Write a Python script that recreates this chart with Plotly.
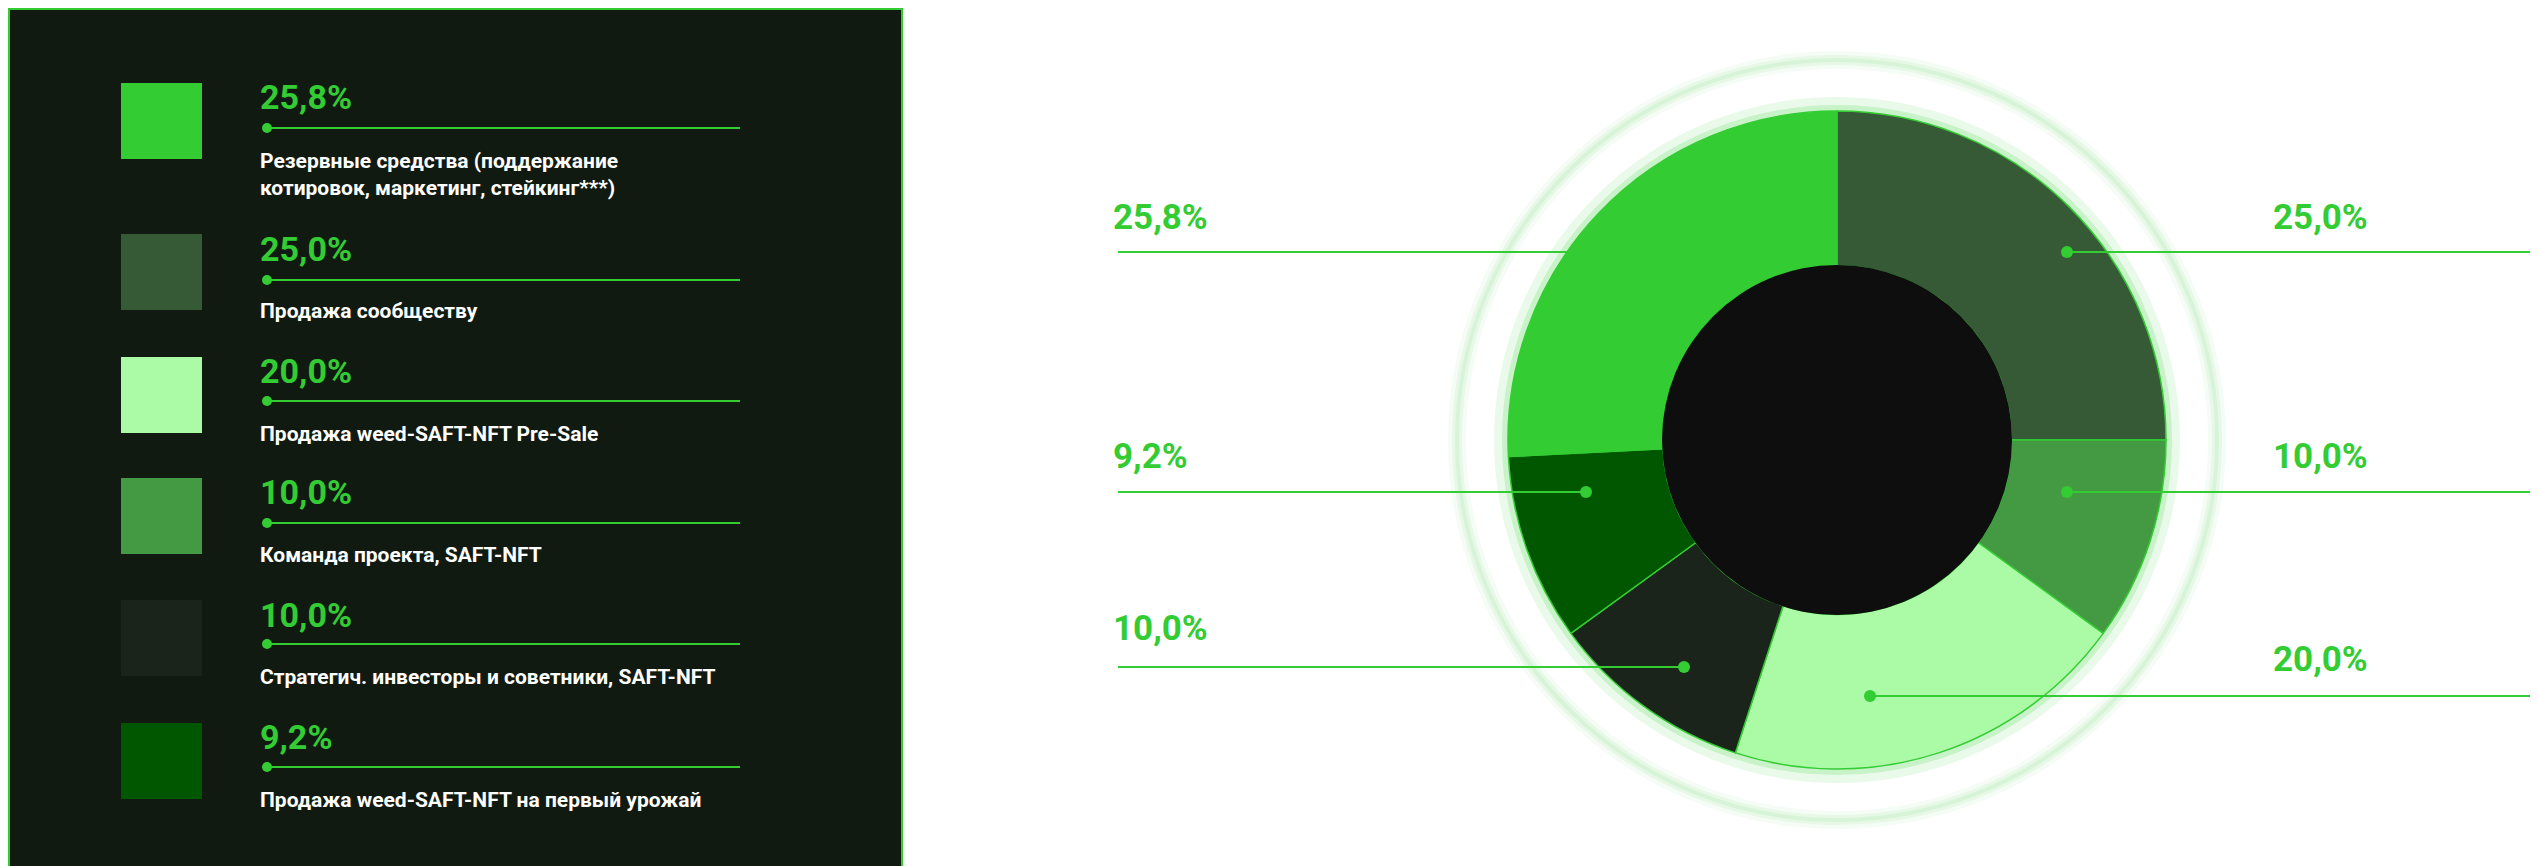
import plotly.graph_objects as go

# ---- data ----
labels = ["Продажа сообществу", "Команда проекта, SAFT-NFT", "Продажа weed-SAFT-NFT Pre-Sale",
          "Стратегич. инвесторы и советники, SAFT-NFT", "Продажа weed-SAFT-NFT на первый урожай",
          "Резервные средства (поддержание<br>котировок, маркетинг, стейкинг***)"]
values = [25.0, 10.0, 20.0, 10.0, 9.2, 25.8]
colors = ["#365a36", "#439a43", "#aafaa6", "#1b241b", "#005700", "#33cc33"]
legend_order = [5, 0, 2, 1, 3, 4]

W, H = 2538, 866
GREEN = "#33cc33"
FONT = "Roboto"

def fmt(v):
    return f"{v:.1f}".replace(".", ",") + "%"

fig = go.Figure()
cx, cy, R = 1829, 432, 329
fig.add_trace(go.Pie(
    values=values, labels=[l.replace("<br>", " ") for l in labels], marker=dict(colors=colors, line=dict(color=GREEN, width=1.5)),
    hole=0.53, sort=False, direction="clockwise", rotation=0, textinfo="none",
    hoverinfo="label+percent", showlegend=False,
    domain=dict(x=[(cx - R) / W, (cx + R) / W], y=[(H - cy - R) / H, (H - cy + R) / H])))

shapes = []
shapes.append(dict(type="rect", xref="x", yref="y", x0=1, y0=1, x1=894, y1=865,
                   fillcolor="#111a11", line=dict(color=GREEN, width=2), layer="below"))
# soft glow rings
for r, w, op in [(380, 18, 0.05), (380, 10, 0.07), (380, 4, 0.08), (336, 14, 0.10), (332, 6, 0.18)]:
    shapes.append(dict(type="circle", xref="x", yref="y", x0=cx - r, x1=cx + r, y0=cy - r, y1=cy + r,
                       line=dict(color=f"rgba(51,204,51,{op})", width=w), layer="below"))
hr = 175
shapes.append(dict(type="circle", xref="x", yref="y", x0=cx - hr, x1=cx + hr, y0=cy - hr, y1=cy + hr,
                   fillcolor="#0e0e0e", line=dict(width=0), layer="above"))

ann = []
rows = [(113, 89, 120, 166), (264, 241, 272, 303), (387, 363, 393, 426),
        (508, 484, 515, 547), (630, 607, 636, 669), (753, 729, 759, 792)]
for (sy, py, ly, lby), i in zip(rows, legend_order):
    shapes.append(dict(type="rect", xref="x", yref="y", x0=113, x1=194, y0=sy - 38, y1=sy + 38,
                       fillcolor=colors[i], line=dict(width=0)))
    shapes.append(dict(type="line", xref="x", yref="y", x0=259, x1=732, y0=ly, y1=ly,
                       line=dict(color=GREEN, width=2)))
    shapes.append(dict(type="circle", xref="x", yref="y", x0=254, x1=264, y0=ly - 5, y1=ly + 5,
                       fillcolor=GREEN, line=dict(width=0)))
    ann.append(dict(x=250, y=py, xref="x", yref="y", text=f"<b>{fmt(values[i])}</b>", showarrow=False,
                    xanchor="left", yanchor="middle", font=dict(family=FONT, size=34, color=GREEN)))
    ann.append(dict(x=250, y=lby, xref="x", yref="y", text=f"<b>{labels[i]}</b>", showarrow=False, align="left",
                    xanchor="left", yanchor="middle", font=dict(family=FONT, size=21, color="white")))

callouts = [(5, "L", 209, 244, None, 1559), (4, "L", 448, 484, 1578, 1578), (3, "L", 620, 659, 1676, 1676),
            (0, "R", 209, 244, 2059, 2059), (1, "R", 448, 484, 2059, 2059), (2, "R", 651, 688, 1862, 1862)]
for i, side, ty, ly, dot, xend in callouts:
    if side == "L":
        x0, x1 = 1110, xend
        ann.append(dict(x=1103, y=ty, xref="x", yref="y", text=f"<b>{fmt(values[i])}</b>", showarrow=False,
                        xanchor="left", yanchor="middle", font=dict(family=FONT, size=35, color=GREEN)))
    else:
        x0, x1 = xend, 2526
        ann.append(dict(x=2362, y=ty, xref="x", yref="y", text=f"<b>{fmt(values[i])}</b>", showarrow=False,
                        xanchor="right", yanchor="middle", font=dict(family=FONT, size=35, color=GREEN)))
    shapes.append(dict(type="line", xref="x", yref="y", x0=x0, x1=x1, y0=ly, y1=ly,
                       line=dict(color=GREEN, width=2), layer="above"))
    if dot is not None:
        shapes.append(dict(type="circle", xref="x", yref="y", x0=dot - 6, x1=dot + 6, y0=ly - 6, y1=ly + 6,
                           fillcolor=GREEN, line=dict(width=0), layer="above"))

fig.update_layout(
    width=W, height=H, margin=dict(l=0, r=0, t=0, b=0),
    paper_bgcolor="white", plot_bgcolor="rgba(0,0,0,0)",
    xaxis=dict(range=[0, W], visible=False, fixedrange=True),
    yaxis=dict(range=[H, 0], visible=False, fixedrange=True),
    shapes=shapes, annotations=ann, font=dict(family=FONT))
fig.write_html("out.html")
